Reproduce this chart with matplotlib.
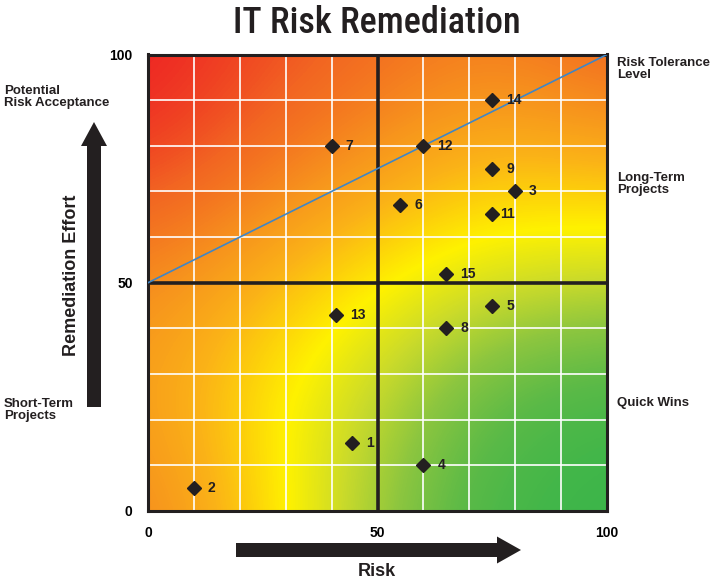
import numpy as np
import matplotlib
matplotlib.use("Agg")
import matplotlib.pyplot as plt
from matplotlib.colors import LinearSegmentedColormap
from matplotlib.patches import FancyArrow

plt.rcParams['font.family'] = ['Liberation Sans', 'DejaVu Sans']

# data
ids = ['1', '2', '3', '4', '5', '6', '7', '8', '9', '11', '12', '13', '14', '15']
risk = [44.5, 10, 80, 60, 75, 55, 40, 65, 75, 75, 60, 41, 75, 65]
effort = [15, 5, 70, 10, 45, 67, 80, 40, 75, 65, 80, 43, 90, 52]
tolerance_x = [0, 100]
tolerance_y = [50, 100]
ticks = [0, 50, 100]

DARK = '#231f20'

fig = plt.figure(figsize=(7.13, 5.82), dpi=100)
ax = fig.add_axes([148 / 713, 71 / 582, 459 / 713, 456.5 / 582])

# background: heat level sampled every 25 units (rows bottom -> top),
# 0 = green, 2 = yellow, 4 = red
heat = np.array([
    [3.2, 2.3, 1.1, 0.15, 0.0],
    [2.85, 2.1, 1.4, 0.5, 0.15],
    [3.1, 2.6, 2.0, 1.6, 1.45],
    [3.75, 3.35, 2.9, 2.45, 2.6],
    [4.0, 3.7, 3.45, 3.2, 3.55],
])
stops = [(0, '#39b54a'), (0.5, '#5cba47'), (1.0, '#8dc63f'), (1.5, '#cbdb2a'),
         (2.0, '#fff200'), (2.3, '#fdd20a'), (2.6, '#fbb317'), (3.0, '#f7941d'),
         (3.5, '#f26522'), (4.0, '#ed1c24')]
cmap = LinearSegmentedColormap.from_list('heat', [(v / 4, c) for v, c in stops])
ax.imshow(heat, extent=[-12.5, 112.5, -12.5, 112.5], origin='lower',
          cmap=cmap, vmin=0, vmax=4, interpolation='bicubic',
          interpolation_stage='data', aspect='auto', zorder=0)

ax.set_xlim(0, 100)
ax.set_ylim(0, 100)

# white grid
for v in range(10, 100, 10):
    if v == 50:
        continue
    ax.axvline(v, color='white', lw=1.2, zorder=1)
    ax.axhline(v, color='white', lw=1.2, zorder=1)
ax.axvline(50, color=DARK, lw=2.6, zorder=2)
ax.axhline(50, color=DARK, lw=2.6, zorder=2)

ax.plot(tolerance_x, tolerance_y, color='#3f86c6', lw=1.2, zorder=3)

ax.plot(risk, effort, 'D', color=DARK, markersize=7, zorder=4)
for name, x, y in zip(ids, risk, effort):
    off = 6 if name == '11' else 10
    ax.annotate(name, (x, y), xytext=(off, 0), textcoords='offset points',
                va='center', ha='left', fontsize=10, fontweight='bold',
                color=DARK, zorder=5)

for s in ax.spines.values():
    s.set_color(DARK)
    s.set_linewidth(2.2)
ax.set_xticks(ticks)
ax.set_yticks(ticks)
ax.tick_params(length=0, labelsize=10, colors='black')
ax.tick_params(axis='y', pad=11)
ax.tick_params(axis='x', pad=11)
for lab in ax.get_xticklabels() + ax.get_yticklabels():
    lab.set_fontweight('bold')

# overlay in pixel coordinates for arrows and side texts
ov = fig.add_axes([0, 0, 1, 1], facecolor='none')
ov.set_xlim(0, 713)
ov.set_ylim(582, 0)
ov.axis('off')

ov.add_patch(FancyArrow(94, 407, 0, 122 - 407, width=14, head_width=26,
                        head_length=24, length_includes_head=True,
                        color=DARK, lw=0))
ov.add_patch(FancyArrow(236, 550, 521 - 236, 0, width=14, head_width=27,
                        head_length=24, length_includes_head=True,
                        color=DARK, lw=0))

ov.text(377, 23, 'IT Risk Remediation', ha='center', va='center', fontsize=26,
        family=['Roboto Condensed', 'DejaVu Sans Condensed', 'DejaVu Sans'],
        fontweight='medium', color=DARK)
ov.text(72, 275, 'Remediation Effort', rotation=90, ha='center', va='center',
        fontsize=13, fontweight='bold', color=DARK)
ov.text(377, 572, 'Risk', ha='center', va='center', fontsize=13,
        fontweight='bold', color=DARK)

side = dict(fontsize=9.5, fontweight='bold', color=DARK, ha='left',
            va='center', linespacing=0.95)
ov.text(617, 69, 'Risk Tolerance\nLevel', **side)
ov.text(617, 184, 'Long-Term\nProjects', **side)
ov.text(617, 403, 'Quick Wins', **side)
ov.text(4, 97, 'Potential\nRisk Acceptance', **side)
ov.text(4, 410, 'Short-Term\nProjects', **side)

fig.savefig('out.png', dpi=100)
